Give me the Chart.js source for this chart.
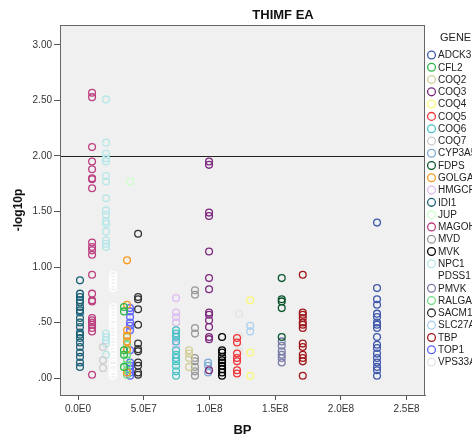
<!DOCTYPE html>
<html>
<head>
<meta charset="utf-8">
<script src="https://cdn.jsdelivr.net/npm/chart.js@4.4.1/dist/chart.umd.min.js"></script>
<style>
  html, body { margin: 0; padding: 0; background: #ffffff; }
  canvas { display: block; }
</style>
</head>
<body>
<canvas id="chart" width="472" height="439"></canvas>
<script>
// Genes in legend order, their colours and base-pair positions
const genes = ["ADCK3","CFL2","COQ2","COQ3","COQ4","COQ5","COQ6","COQ7","CYP3A5","FDPS","GOLGA8A","HMGCR","IDI1","JUP","MAGOHB","MVD","MVK","NPC1","PDSS1","PMVK","RALGAPA1","SACM1L","SLC27A4","TBP","TOP1","VPS33A"];
const geneColors = ["#3E58AC","#2EB848","#D3CE97","#7C287D","#FBF873","#EF3338","#48C2C5","#CCCCCC","#7AAAD5","#0A562C","#F8981D","#DDBAF1","#1A5F76","#CCFFCC","#BB3F7F","#999999","#000000","#B6E7E8","#FFFFFF","#797AA7","#70DC84","#333333","#ACD0EE","#A21619","#5D61FF","#E4E4E4"];
const geneBP = [2.275e8, 3.5e7, 8.45e7, 9.97e7, 1.31e8, 1.21e8, 7.46e7, 1.9e7, 9.9e7, 1.55e8, 3.73e7, 7.46e7, 1.5e6, 3.96e7, 1.07e7, 8.9e7, 1.096e8, 2.13e7, 2.66e7, 1.55e8, 3.73e7, 4.57e7, 1.31e8, 1.71e8, 3.96e7, 1.225e8];

// -log10(p) values per gene
const ADCK3 = [1.40, 0.81, 0.71, 0.66, 0.58, 0.55, 0.50, 0.48, 0.45, 0.37, 0.30, 0.27, 0.22, 0.18, 0.14, 0.10, 0.07, 0.02];
const CFL2 = [0.64, 0.60, 0.25, 0.21, 0.10];
const COQ2 = [0.25, 0.22, 0.18, 0.10];
const COQ3 = [1.95, 1.92, 1.49, 1.46, 1.14, 0.90, 0.80, 0.59, 0.57, 0.52, 0.46, 0.37, 0.35, 0.07];
const COQ4 = [0.70, 0.23, 0.02];
const COQ5 = [0.36, 0.32, 0.22, 0.18, 0.15, 0.07, 0.04];
const COQ6 = [0.43, 0.40, 0.37, 0.33, 0.25, 0.21, 0.18, 0.15, 0.11, 0.06, 0.02];
const COQ7 = [0.28, 0.16, 0.09];
const CYP3A5 = [0.14, 0.11, 0.05];
const FDPS = [0.90, 0.71, 0.69, 0.63, 0.37];
const GOLGA8A = [1.06, 0.66, 0.43, 0.38, 0.33, 0.26, 0.05];
const HMGCR = [0.72, 0.59, 0.55, 0.50, 0.38, 0.33, 0.30];
const IDI1 = [0.88, 0.76, 0.73, 0.70, 0.68, 0.64, 0.61, 0.59, 0.54, 0.50, 0.46, 0.41, 0.39, 0.36, 0.32, 0.28, 0.23, 0.19, 0.14, 0.10];
const JUP = [1.77];
const MAGOHB = [2.57, 2.53, 2.08, 1.95, 1.88, 1.80, 1.79, 1.71, 1.22, 1.18, 1.15, 1.11, 0.93, 0.76, 0.70, 0.69, 0.54, 0.52, 0.50, 0.48, 0.45, 0.42, 0.03];
const MVD = [0.79, 0.75, 0.45, 0.40, 0.18, 0.15, 0.10, 0.06, 0.02];
const MVK = [0.37, 0.25, 0.23, 0.19, 0.16, 0.14, 0.11, 0.08, 0.05, 0.02];
const NPC1 = [2.51, 2.12, 2.02, 1.98, 1.95, 1.82, 1.77, 1.62, 1.51, 1.47, 1.41, 1.39, 1.32, 1.24, 1.21, 1.18, 0.40, 0.37, 0.34, 0.31, 0.21];
const PDSS1 = [0.93, 0.90, 0.87, 0.84, 0.81, 0.64, 0.61, 0.58, 0.55, 0.52, 0.50, 0.46, 0.43, 0.40, 0.37, 0.34, 0.31, 0.28, 0.25, 0.22, 0.18, 0.14, 0.09, 0.05, 0.02];
const PMVK = [0.33, 0.29, 0.24, 0.21, 0.18, 0.14];
const RALGAPA1 = [0.37, 0.30, 0.25, 0.21, 0.16, 0.12, 0.07, 0.03];
const SACM1L = [1.30, 0.73, 0.71, 0.62, 0.48, 0.31, 0.26, 0.24, 0.14, 0.11, 0.05, 0.03];
const SLC27A4 = [0.47, 0.42];
const TBP = [0.93, 0.59, 0.57, 0.54, 0.50, 0.48, 0.45, 0.31, 0.28, 0.21, 0.18, 0.15, 0.02];
const TOP1 = [0.63, 0.60, 0.55, 0.50, 0.47, 0.43, 0.25, 0.14, 0.11, 0.08, 0.05, 0.02];
const VPS33A = [0.58, 0.38, 0.28, 0.24];

const geneValues = [ADCK3, CFL2, COQ2, COQ3, COQ4, COQ5, COQ6, COQ7, CYP3A5, FDPS, GOLGA8A, HMGCR, IDI1, JUP, MAGOHB, MVD, MVK, NPC1, PDSS1, PMVK, RALGAPA1, SACM1L, SLC27A4, TBP, TOP1, VPS33A];

// Axis ticks and significance threshold
const xTicks = [0, 5e7, 1e8, 1.5e8, 2e8, 2.5e8];
const yTicks = [0, 0.5, 1, 1.5, 2, 2.5, 3];
const threshold = 2.0;

const FONT = '"Liberation Sans", Arial, sans-serif';

const datasets = genes.map((g, i) => ({
  label: g,
  data: geneValues[i].map(v => ({ x: geneBP[i], y: v })),
  borderColor: geneColors[i],
  backgroundColor: 'rgba(0,0,0,0)',
  pointRadius: 3.4,
  pointHoverRadius: 3.4,
  pointBorderWidth: 1.3,
  order: i
}));

function fmtX(v) {
  const [m, e] = Number(v).toExponential(1).split('e');
  return m + 'E' + parseInt(e, 10);
}
function fmtY(v) {
  return Number(v).toFixed(2).replace(/^0\./, '.');
}

const decor = {
  id: 'decor',
  beforeDraw(chart) {
    const { ctx, chartArea: a } = chart;
    ctx.save();
    ctx.fillStyle = '#ffffff';
    ctx.fillRect(0, 0, chart.width, chart.height);
    ctx.fillStyle = '#F0F0F0';
    ctx.fillRect(a.left, a.top, a.right - a.left, a.bottom - a.top);
    ctx.restore();
  },
  beforeDatasetsDraw(chart) {
    const { ctx, chartArea: a, scales } = chart;
    const y = Math.round(scales.y.getPixelForValue(threshold)) + 0.5;
    ctx.save();
    ctx.strokeStyle = '#222222';
    ctx.lineWidth = 1;
    ctx.beginPath();
    ctx.moveTo(a.left, y);
    ctx.lineTo(a.right, y);
    ctx.stroke();
    ctx.restore();
  },
  afterDraw(chart) {
    const { ctx, chartArea: a } = chart;
    ctx.save();
    // plot frame
    ctx.strokeStyle = '#666666';
    ctx.lineWidth = 1;
    ctx.strokeRect(a.left + 0.5, a.top + 0.5, a.right - a.left - 1, a.bottom - a.top);

    // titles
    ctx.fillStyle = '#111111';
    ctx.textAlign = 'center';
    ctx.textBaseline = 'middle';
    ctx.font = 'bold 13px ' + FONT;
    ctx.fillText('THIMF EA', 283, 15);
    ctx.fillText('BP', (a.left + a.right) / 2, 430);
    ctx.save();
    ctx.translate(19, (a.top + a.bottom) / 2);
    ctx.rotate(-Math.PI / 2);
    ctx.font = 'bold 12px ' + FONT;
    ctx.fillText('-log10p', 0, 0);
    ctx.restore();

    // legend
    ctx.textAlign = 'left';
    ctx.font = '11px ' + FONT;
    ctx.fillStyle = '#222222';
    ctx.fillText('GENE', 440, 38);
    ctx.font = '10px ' + FONT;
    const step = 12.28;
    genes.forEach((g, i) => {
      const y = 55 + i * step;
      ctx.beginPath();
      ctx.arc(431.5, y, 3.9, 0, Math.PI * 2);
      ctx.strokeStyle = geneColors[i];
      ctx.lineWidth = 1.3;
      ctx.stroke();
      ctx.fillStyle = '#222222';
      ctx.fillText(g, 438, y + 0.5);
    });
    ctx.restore();
  }
};

new Chart(document.getElementById('chart'), {
  type: 'scatter',
  data: { datasets },
  options: {
    responsive: false,
    devicePixelRatio: 1,
    animation: false,
    layout: { padding: { top: 25, right: 47, left: 0, bottom: 0 } },
    plugins: {
      legend: { display: false },
      tooltip: { enabled: false },
      title: { display: false }
    },
    scales: {
      x: {
        type: 'linear',
        min: -1.37e7,
        max: 2.64e8,
        afterBuildTicks: s => { s.ticks = xTicks.map(v => ({ value: v })); },
        afterFit: s => { s.height = 44; },
        ticks: {
          callback: v => fmtX(v),
          font: { family: FONT, size: 10 },
          color: '#333333',
          padding: 3,
          maxRotation: 0,
          autoSkip: false
        },
        grid: { drawOnChartArea: false, drawTicks: true, tickLength: 5, tickColor: '#555555' },
        border: { display: true, color: '#666666', width: 1 }
      },
      y: {
        type: 'linear',
        min: -0.153,
        max: 3.18,
        afterBuildTicks: s => { s.ticks = yTicks.map(v => ({ value: v })); },
        afterFit: s => { s.width = 60; },
        ticks: {
          callback: v => fmtY(v),
          font: { family: FONT, size: 10 },
          color: '#333333',
          padding: 2,
          autoSkip: false
        },
        grid: { drawOnChartArea: false, drawTicks: true, tickLength: 6, tickColor: '#555555' },
        border: { display: true, color: '#666666', width: 1 }
      }
    }
  },
  plugins: [decor]
});
</script>
</body>
</html>
